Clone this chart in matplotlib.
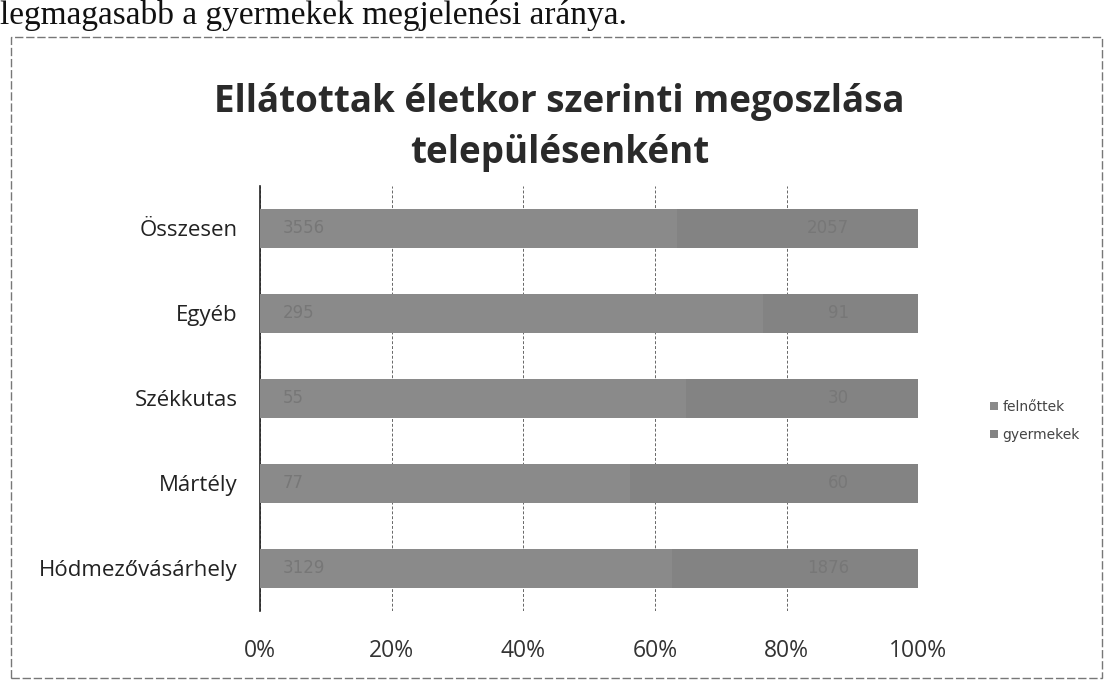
import matplotlib
matplotlib.use("Agg")
import matplotlib.pyplot as plt
import numpy as np

categories = ["Hódmezővásárhely", "Mártély", "Székkutas", "Egyéb", "Összesen"]
felnottek = [3129, 77, 55, 295, 3556]
gyermekek = [1876, 60, 30, 91, 2057]
series_names = ["felnőttek", "gyermekek"]
x_ticks = [0, 20, 40, 60, 80, 100]
title = "Ellátottak életkor szerinti megoszlása\ntelepülésenként"
header_text = "legmagasabb a gyermekek megjelenési aránya."

fig = plt.figure(figsize=(11.08, 6.8), dpi=100)
fig.patch.set_facecolor("white")

ax = fig.add_axes([0.2347, 0.1015, 0.594, 0.625])

f = np.array(felnottek, dtype=float)
g = np.array(gyermekek, dtype=float)
tot = f + g
fp = f / tot * 100
gp = g / tot * 100
y = np.arange(len(categories))

c1 = "#8a8a8a"
c2 = "#838383"
b1 = ax.barh(y, fp, height=0.45, color=c1, label=series_names[0], zorder=3)
b2 = ax.barh(y, gp, left=fp, height=0.45, color=c2, label=series_names[1], zorder=3)

for i in range(len(categories)):
    ax.annotate(str(felnottek[i]), xy=(0, y[i]), xytext=(16, 0), textcoords="offset points",
                ha="left", va="center", fontsize=12, color="#777777", zorder=4)
    ax.annotate(str(gyermekek[i]), xy=(100, y[i]), xytext=(-50, 0), textcoords="offset points",
                ha="right", va="center", fontsize=12, color="#777777", zorder=4)

ax.set_xlim(0, 100)
ax.set_ylim(-0.5, len(categories) - 0.5)
ax.set_xticks(x_ticks)
ax.set_xticklabels([f"{t}%" for t in x_ticks], fontsize=16.5, color="#333333", family="Open Sans")
ax.set_yticks(y)
ax.set_yticklabels(categories, fontsize=16, color="#222222", family="Open Sans")
ax.tick_params(axis="x", length=0, pad=20)
ax.tick_params(axis="y", length=0, pad=16)
ax.xaxis.grid(True, color="#666666", linewidth=0.7, linestyle=(0, (3, 2)), zorder=0)
for s in ["top", "right", "bottom"]:
    ax.spines[s].set_visible(False)
ax.spines["left"].set_color("#222222")
ax.spines["left"].set_linewidth(1.2)

fig.text(0.505, 0.812, title, ha="center", va="center", fontsize=26.5, fontweight="bold",
         color="#2a2a2a", family="Open Sans", linespacing=1.45)

leg = fig.legend(handles=[b1, b2], labels=series_names, loc="center left",
                 bbox_to_anchor=(0.882, 0.381), frameon=False, fontsize=10,
                 handlelength=0.6, handleheight=0.6, handletextpad=0.3, labelspacing=1.0)
for t in leg.get_texts():
    t.set_color("#444444")

fig.text(0.0, 1 - 24 / 680, header_text, ha="left", va="baseline", fontsize=24,
         family="Liberation Serif", color="#111111")

frame = plt.Rectangle((0.01, 0.003), 0.985, 0.942, transform=fig.transFigure, fill=False,
                      edgecolor="#777777", linewidth=1.0, linestyle=(0, (6, 2)))
fig.add_artist(frame)

fig.savefig("out.png", dpi=100, facecolor="white")
